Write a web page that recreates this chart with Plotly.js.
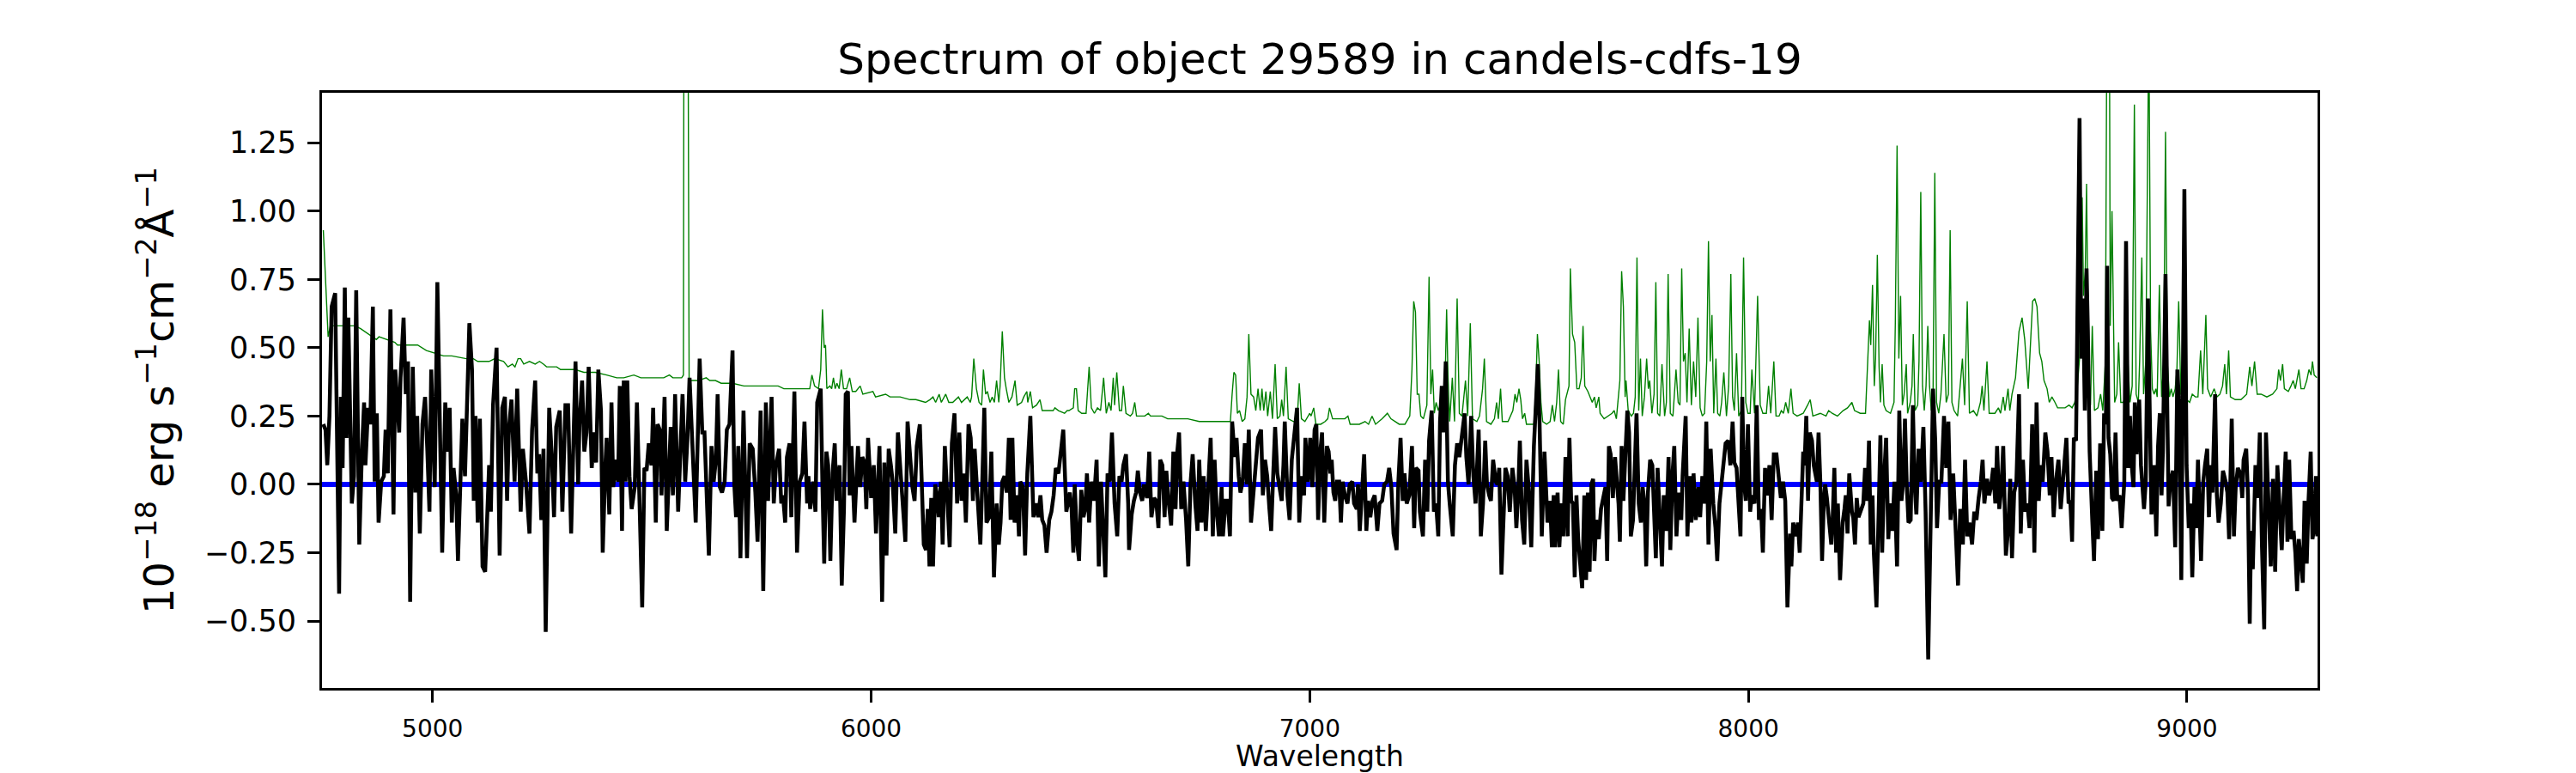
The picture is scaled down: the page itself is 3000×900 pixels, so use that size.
<!DOCTYPE html>
<html>
<head>
<meta charset="utf-8">
<script src="https://cdn.plot.ly/plotly-3.0.1.min.js"></script>
<style>
  html, body { margin: 0; padding: 0; background: #ffffff; }
  #spectrum { width: 3000px; height: 900px; }
</style>
</head>
<body>
<div id="spectrum"></div>
<script>
// Spectrum of object 29589 (candels-cdfs-19): observed flux (black),
// noise/sky spectrum (green) and the zero level (blue).
// Values, units 1e-18 erg/s/cm2/A.

const TITULO = 'Spectrum of object 29589 in candels-cdfs-19';
const EJE_X = 'Wavelength';
const EJE_Y = '10<sup>\u221218</sup> erg s<sup>\u22121</sup>cm<sup>\u22122</sup>\u00c5<sup>\u22121</sup>';

const xTicks = [5000, 6000, 7000, 8000, 9000];
const yTicks = [-0.5, -0.25, 0, 0.25, 0.5, 0.75, 1.0, 1.25];
const xLimites = [4748, 9297.6];
const yLimites = [-0.745, 1.433];
const nivelCero = 0;

// flujo observado
const ondaFlujo = [
  4751, 4756, 4760, 4765, 4770, 4778, 4787, 4791, 4795, 4800, 4804, 4808, 4816, 4821, 4826, 4833, 4839, 4844, 4847, 4853,
  4858, 4864, 4868, 4873, 4877, 4883, 4889, 4893, 4898, 4904, 4911, 4915, 4924, 4927, 4934, 4939, 4944, 4949, 4955, 4961,
  4965, 4971, 4977, 4983, 4988, 4993, 4997, 5005, 5011, 5017, 5022, 5029, 5035, 5039, 5044, 5048, 5054, 5058, 5062, 5068,
  5074, 5084, 5090, 5094, 5098, 5103, 5108, 5114, 5120, 5124, 5129, 5133, 5138, 5146, 5153, 5159, 5165, 5170, 5174, 5180,
  5187, 5193, 5201, 5206, 5213, 5221, 5227, 5234, 5239, 5243, 5248, 5253, 5258, 5266, 5272, 5277, 5282, 5290, 5296, 5303,
  5309,
  5316, 5321, 5326, 5332, 5335, 5341, 5346, 5351, 5356, 5363, 5368, 5373, 5378, 5384, 5388, 5394, 5397, 5403, 5408, 5412,
  5418, 5423, 5427, 5432, 5436, 5440, 5444, 5449, 5454, 5461, 5466, 5472, 5478, 5483, 5488, 5493, 5499, 5503, 5509, 5513,
  5518, 5522, 5529, 5534, 5538, 5543, 5548, 5553, 5560, 5565, 5570, 5576, 5581, 5586, 5591, 5596, 5600, 5609, 5615, 5620,
  5625, 5630, 5636, 5641, 5646, 5650, 5655, 5660, 5666, 5671, 5677, 5684, 5688, 5692, 5697, 5702, 5709, 5717, 5723, 5730,
  5736, 5741, 5748, 5754, 5760, 5765, 5773, 5778, 5783, 5790, 5795, 5799, 5804, 5808, 5814, 5818, 5825, 5831, 5837, 5843,
  5848, 5854, 5857, 5861, 5868, 5873, 5877,
  5885, 5889, 5893, 5898, 5902, 5907, 5912, 5917, 5921, 5928, 5933, 5938, 5942, 5947, 5951, 5955, 5962, 5970, 5975, 5980,
  5985, 5989, 5993, 6000, 6006, 6011, 6015, 6019, 6025, 6030, 6035, 6040, 6045, 6049, 6055, 6061, 6066, 6072, 6078, 6083,
  6090, 6094, 6099, 6104, 6111, 6116, 6120, 6125, 6129, 6133, 6137, 6141, 6146, 6150, 6154, 6159, 6163, 6168, 6173, 6179,
  6184, 6190, 6196, 6201, 6206, 6211, 6216, 6222, 6227, 6232, 6236, 6241, 6245, 6249, 6253, 6258, 6263, 6269, 6274, 6280,
  6286, 6291, 6295, 6299, 6304, 6309, 6314, 6318, 6322, 6327, 6333, 6337, 6340, 6346, 6351, 6356, 6363, 6367, 6370, 6376,
  6381, 6386, 6390, 6395, 6400, 6406, 6411, 6416, 6421, 6427, 6432, 6438, 6445,
  6453, 6457, 6461, 6464, 6470, 6474, 6479, 6484, 6488, 6492, 6497, 6502, 6508, 6514, 6519, 6524, 6530, 6534, 6539, 6544,
  6549, 6555, 6561, 6566, 6571, 6575, 6581, 6586, 6588, 6594, 6599, 6604, 6608, 6613, 6618, 6622, 6629, 6634, 6639, 6645,
  6650, 6655, 6659, 6664, 6669, 6673, 6678, 6684, 6689, 6694, 6698, 6702, 6707, 6712, 6718, 6723, 6728, 6733, 6739, 6744,
  6748, 6753, 6758, 6763, 6769, 6774, 6779, 6783, 6788, 6793, 6799, 6802, 6808, 6813, 6818, 6823, 6829, 6833, 6838, 6842,
  6847, 6852, 6857, 6861, 6866, 6872, 6877, 6882, 6889, 6893, 6898, 6903, 6908, 6912, 6917, 6921, 6926, 6930, 6936, 6940,
  6943, 6949, 6954, 6959, 6963, 6967, 6971, 6976, 6981, 6987, 6990, 6996, 7001, 7006, 7011, 7015,
  7019, 7024, 7028, 7033, 7039, 7043, 7047, 7050, 7054, 7058, 7062, 7067, 7071, 7075, 7080, 7086, 7091, 7097, 7101, 7107,
  7110, 7114, 7118, 7124, 7129, 7133, 7138, 7143, 7148, 7154, 7159, 7165, 7170, 7176, 7181, 7186, 7191, 7198, 7202, 7207,
  7212, 7216, 7221, 7227, 7233, 7238, 7242, 7248, 7251, 7258, 7263, 7268, 7272, 7278, 7283, 7288, 7293, 7297, 7301, 7305,
  7310, 7315, 7319, 7326, 7331, 7336, 7341, 7347, 7353, 7357, 7362, 7368, 7373, 7378, 7385, 7390, 7395, 7400, 7404, 7409,
  7413, 7418, 7424, 7428, 7432, 7437, 7442, 7446, 7451, 7456, 7462, 7467, 7471, 7475, 7479, 7484, 7489, 7494, 7499, 7505,
  7511, 7516, 7520, 7524, 7529, 7535, 7539, 7542, 7548, 7552, 7556, 7559, 7565, 7569, 7574, 7578, 7583,
  7588, 7592, 7596, 7600, 7604, 7608, 7612, 7617, 7621, 7626, 7630, 7634, 7638, 7642, 7646, 7649, 7653, 7659, 7664, 7669,
  7674, 7678, 7682, 7686, 7691, 7696, 7700, 7704, 7707, 7711, 7715, 7719, 7724, 7728, 7732, 7737, 7741, 7745, 7750, 7755,
  7759, 7763, 7767, 7771, 7776, 7781, 7785, 7789, 7793, 7798, 7803, 7807, 7813, 7818, 7822, 7827, 7831, 7836, 7841, 7847,
  7850, 7857, 7861, 7866, 7870, 7875, 7880, 7886, 7890, 7895, 7900, 7904, 7909, 7914, 7920, 7925, 7929, 7934, 7939, 7944,
  7948, 7954, 7959, 7964, 7968, 7973, 7978, 7982, 7986, 7990, 7994, 7999, 8004, 8008, 8014, 8019, 8024, 8029, 8033, 8038,
  8042, 8048, 8053, 8058, 8064, 8070, 8074, 8079, 8084, 8089, 8095, 8098, 8102, 8108, 8113, 8117, 8121, 8125, 8128, 8132,
  8136, 8140, 8145, 8149,
  8156, 8160, 8164, 8168, 8172, 8175, 8179, 8183, 8189, 8192, 8196, 8200, 8204, 8209, 8215, 8219, 8222, 8226, 8230, 8236,
  8239, 8243, 8247, 8251, 8256, 8262, 8266, 8271, 8275, 8279, 8283, 8286, 8292, 8297, 8301, 8305, 8309, 8314, 8319, 8323,
  8328, 8333, 8339, 8344, 8349, 8353, 8357, 8361, 8365, 8370, 8375, 8379, 8383, 8388, 8393, 8399, 8404, 8410, 8416, 8421,
  8426, 8430, 8435, 8440, 8446, 8451, 8456, 8461, 8467, 8472, 8478, 8483, 8489, 8494, 8499, 8504, 8510, 8515, 8520, 8525,
  8530, 8534, 8538, 8544, 8549, 8553, 8558, 8563, 8567, 8572, 8577, 8581, 8587, 8592, 8597, 8601, 8606, 8611, 8617, 8621,
  8626, 8631, 8636, 8641, 8647, 8652, 8657, 8662, 8666, 8671, 8677, 8682, 8687, 8691, 8696, 8701, 8707, 8712, 8717,
  8725, 8730, 8734, 8738, 8742, 8747, 8751, 8755, 8759, 8763, 8767, 8771, 8774, 8778, 8784, 8788, 8793, 8797, 8802, 8807,
  8811, 8815, 8818, 8821, 8825, 8829, 8833, 8837, 8841, 8846, 8851, 8857, 8861, 8866, 8870, 8874, 8878, 8881, 8885, 8891,
  8895, 8898, 8902, 8906, 8911, 8915, 8919, 8925, 8930, 8934, 8938, 8942, 8945, 8951, 8955, 8958, 8962, 8968, 8973, 8978,
  8982, 8987, 8994, 8999, 9004, 9008, 9012, 9017, 9021, 9025, 9032, 9037, 9041, 9046, 9050, 9054, 9058, 9064, 9068, 9072,
  9077, 9082, 9088, 9092, 9096, 9102, 9107, 9111, 9116, 9122, 9126, 9129, 9135, 9139, 9143, 9146, 9150, 9156, 9161, 9166,
  9171, 9176, 9180, 9186, 9191, 9196, 9201, 9206, 9212, 9216, 9220, 9225, 9229, 9233, 9238, 9243, 9247, 9251, 9255, 9260,
  9264, 9268, 9273, 9277, 9282, 9286, 9290, 9294, 9297
];
const flujo = [
  0.22, 0.20, 0.07, 0.25, 0.65, 0.70, -0.40, 0.32, 0.06, 0.72, 0.17, 0.61, -0.07, 0.03, 0.71, -0.22, 0.12, 0.30, 0.07, 0.28,
  0.22, 0.65, 0.01, 0.26, -0.14, 0.01, 0.03, 0.20, 0.04, 0.64, -0.11, 0.42, 0.19, 0.39, 0.61, 0.33, 0.45, -0.43, 0.43, -0.03,
  0.25, -0.18, 0.22, 0.32, 0.13, -0.10, 0.42, -0.01, 0.74, 0.20, -0.25, 0.30, 0.12, 0.28, -0.14, 0.06, -0.04, -0.28, -0.07, 0.24,
  0.03, 0.59, 0.42, -0.06, 0.25, -0.14, 0.24, -0.30, -0.32, -0.16, 0.07, -0.10, 0.29, 0.50, -0.26, 0.28, 0.32, -0.06, 0.20, 0.31,
  0.01, 0.35, -0.10, 0.13, 0.01, -0.18, 0.20, 0.38, 0.04, 0.11, -0.13, 0.13, -0.54, 0.28, 0.10, -0.12, 0.21, 0.27, -0.10, 0.29,
  0.29,
  -0.18, 0.13, 0.45, 0.00, 0.22, 0.38, 0.12, 0.19, 0.43, 0.06, 0.19, 0.08, 0.42, 0.27, -0.25, 0.07, 0.17, -0.11, 0.30, -0.01,
  0.09, 0.01, 0.36, -0.17, 0.38, 0.01, 0.38, 0.03, -0.09, -0.01, 0.30, -0.07, -0.45, 0.06, 0.05, 0.15, 0.07, 0.28, -0.14, 0.22,
  0.20, -0.04, 0.32, -0.17, -0.02, 0.21, -0.04, 0.33, -0.10, 0.17, 0.33, 0.01, 0.16, 0.39, 0.19, 0.00, -0.14, 0.46, 0.19, 0.19,
  0.00, -0.26, 0.14, 0.01, 0.09, 0.33, -0.01, -0.03, 0.01, 0.20, 0.22, 0.49, 0.00, -0.12, 0.14, -0.27, 0.27, -0.27, 0.15, 0.13,
  -0.03, -0.21, 0.27, -0.39, 0.30, -0.06, 0.32, -0.07, 0.07, 0.13, -0.07, -0.04, -0.14, 0.10, 0.15, -0.12, 0.34, -0.25, 0.01, 0.04,
  0.23, -0.07, 0.03, -0.09, 0.01, -0.10, 0.30,
  0.35, -0.01, -0.29, 0.12, 0.07, -0.28, 0.04, 0.15, -0.06, 0.07, -0.37, -0.09, 0.33, 0.34, -0.04, 0.14, -0.14, 0.14, -0.01, 0.10,
  0.08, -0.09, 0.17, -0.05, 0.07, -0.18, 0.01, 0.14, -0.43, 0.08, -0.26, 0.13, 0.07, 0.01, -0.18, 0.19, 0.07, -0.09, -0.21, 0.23,
  0.06, -0.01, -0.06, 0.14, 0.22, 0.01, -0.22, -0.24, -0.09, -0.30, -0.05, -0.30, 0.00, -0.04, -0.12, 0.01, -0.22, 0.14, -0.04, -0.23,
  0.15, 0.26, -0.07, 0.19, -0.06, 0.04, -0.14, 0.22, 0.17, -0.06, 0.13, 0.01, -0.09, -0.22, -0.01, 0.28, -0.14, -0.12, 0.12, -0.34,
  -0.07, -0.22, -0.14, 0.01, 0.03, -0.03, 0.17, -0.13, 0.17, -0.14, -0.04, -0.19, 0.01, -0.01, -0.26, 0.04, 0.25, 0.01, -0.12, -0.07,
  -0.12, -0.04, -0.13, -0.15, -0.25, -0.13, -0.10, -0.04, 0.06, 0.04, 0.11, 0.20, -0.10,
  -0.03, -0.09, -0.25, 0.00, -0.22, -0.28, -0.02, -0.12, -0.09, 0.04, -0.14, 0.01, -0.06, 0.09, -0.30, 0.01, -0.22, -0.34, 0.04, 0.01,
  0.19, -0.07, -0.19, 0.03, 0.01, 0.07, 0.11, -0.07, -0.24, -0.11, -0.06, -0.03, 0.05, -0.03, -0.06, 0.00, -0.05, 0.12, -0.12, -0.05,
  -0.06, -0.16, 0.09, 0.07, -0.12, 0.05, -0.06, -0.15, 0.12, -0.09, 0.12, 0.19, -0.09, 0.01, -0.13, -0.30, 0.00, 0.11, -0.07, -0.17,
  0.09, -0.14, 0.03, -0.17, 0.01, 0.17, -0.19, 0.09, -0.10, -0.19, -0.01, -0.19, -0.06, -0.06, -0.19, 0.23, 0.10, 0.17, 0.03, -0.03,
  0.01, 0.15, 0.00, 0.20, -0.14, -0.01, 0.07, 0.17, 0.20, -0.04, 0.09, 0.03, -0.09, -0.17, 0.05, 0.21, 0.04, 0.00, -0.06, 0.07,
  0.23, -0.04, -0.13, 0.09, 0.16, 0.20, 0.28, -0.14, 0.03, -0.04, 0.17, 0.01, 0.17, -0.01, 0.20, 0.22,
  -0.13, 0.12, 0.19, -0.14, 0.14, 0.12, 0.04, 0.09, -0.03, -0.06, 0.01, 0.01, -0.14, 0.01, -0.04, -0.07, 0.00, 0.01, -0.07, -0.09,
  0.00, -0.17, -0.06, 0.11, -0.17, -0.06, -0.12, -0.06, -0.04, -0.17, -0.07, -0.06, 0.00, 0.01, 0.06, -0.01, -0.18, -0.24, 0.01, 0.17,
  -0.06, 0.04, -0.07, -0.04, 0.14, -0.16, 0.06, 0.05, -0.10, -0.19, 0.09, -0.10, 0.16, 0.27, -0.10, -0.07, -0.19, 0.23, 0.36, 0.19,
  0.45, 0.01, -0.07, -0.19, 0.07, 0.15, 0.10, 0.18, 0.26, 0.10, 0.00, 0.25, 0.03, -0.07, 0.20, -0.19, -0.07, 0.16, 0.00, -0.04,
  -0.06, 0.09, 0.01, 0.00, 0.06, -0.33, -0.07, 0.06, 0.03, -0.10, 0.06, -0.01, -0.16, -0.04, 0.16, -0.13, -0.22, 0.09, -0.01, -0.23,
  0.14, 0.30, 0.44, 0.22, -0.19, 0.12, 0.00, -0.14, -0.06, -0.23, -0.04, -0.23, -0.03, -0.23, -0.07, -0.19, 0.10,
  -0.19, 0.17, -0.06, -0.07, -0.34, -0.04, -0.20, -0.30, -0.38, -0.04, -0.35, -0.03, -0.32, 0.00, 0.02, -0.28, -0.13, -0.20, -0.09, -0.05,
  -0.01, -0.28, 0.14, 0.11, -0.05, 0.10, 0.03, -0.07, -0.21, 0.14, -0.06, 0.10, 0.27, 0.19, -0.19, -0.13, 0.07, 0.26, -0.07, -0.14,
  -0.01, -0.07, -0.30, -0.03, 0.09, 0.07, -0.10, -0.27, 0.06, -0.17, -0.30, -0.04, -0.17, 0.10, -0.24, 0.04, 0.14, -0.19, -0.03, -0.13,
  0.03, 0.25, -0.19, 0.03, -0.14, 0.04, -0.13, -0.01, -0.12, 0.03, -0.07, 0.23, -0.22, 0.13, -0.07, -0.16, -0.28, -0.07, 0.01, 0.07,
  0.15, 0.16, 0.07, 0.23, 0.08, 0.06, -0.10, -0.19, 0.32, 0.01, -0.06, 0.22, -0.10, -0.04, -0.07, 0.29, -0.13, -0.09, -0.25, 0.06,
  -0.04, 0.07, -0.13, 0.11, 0.11, 0.01, -0.05, 0.01, -0.06, -0.45, -0.18, -0.30, -0.14, -0.19, -0.14, -0.25, -0.01, 0.12, 0.07, 0.25,
  -0.06, 0.19, 0.16, 0.07,
  0.01, 0.19, 0.01, -0.28, -0.06, 0.00, -0.05, -0.12, -0.22, -0.13, 0.06, -0.25, -0.07, -0.35, -0.14, -0.09, -0.04, -0.18, 0.04, -0.10,
  -0.12, -0.22, -0.05, -0.12, -0.10, -0.07, 0.06, -0.06, 0.16, -0.22, -0.04, -0.25, -0.45, 0.01, 0.18, -0.25, 0.01, 0.17, -0.20, -0.07,
  -0.17, 0.01, -0.30, 0.27, -0.06, 0.01, 0.24, 0.00, -0.14, -0.13, 0.29, 0.00, -0.11, 0.13, 0.01, 0.21, -0.10, -0.64, 0.01, 0.35,
  0.16, -0.16, 0.01, 0.01, 0.25, 0.06, 0.23, -0.13, 0.04, -0.16, -0.37, -0.09, -0.22, 0.09, -0.19, -0.14, -0.22, -0.10, -0.13, -0.05,
  0.01, 0.09, -0.07, 0.02, -0.04, -0.01, 0.06, -0.07, 0.14, -0.09, -0.01, 0.14, -0.26, -0.17, 0.02, -0.27, -0.03, 0.01, 0.33, -0.18,
  0.09, -0.10, -0.07, -0.16, 0.22, -0.25, 0.30, -0.06, 0.07, 0.01, 0.19, 0.12, -0.04, 0.10, -0.12, 0.01, 0.09, -0.09, 0.01,
  0.17, -0.07, -0.06, -0.21, 0.17, 0.16, 0.65, 1.34, 0.46, 0.68, 0.27, 0.79, 0.56, 0.12, -0.13, -0.28, 0.05, -0.20, 0.15, -0.17,
  0.26, 0.22, 0.80, 0.17, 0.11, -0.05, -0.06, 0.19, -0.06, -0.04, -0.16, 0.01, 0.89, 0.06, 0.25, 0.07, -0.01, 0.30, 0.11, 0.31,
  0.07, -0.01, -0.09, 0.01, 0.68, 0.27, -0.11, 0.07, -0.19, 0.14, 0.26, -0.04, 0.12, 0.77, 0.27, -0.08, 0.01, 0.05, -0.23, 0.42,
  0.30, -0.35, 1.08, 0.07, -0.16, -0.07, -0.34, -0.01, -0.16, 0.09, -0.28, 0.01, 0.07, 0.13, -0.12, 0.07, -0.03, 0.33, -0.04, -0.14,
  -0.07, 0.05, 0.01, -0.03, -0.20, 0.24, -0.19, -0.01, 0.06, 0.04, -0.05, 0.09, 0.13, -0.04, -0.51, -0.17, -0.31, 0.07, -0.05, 0.19,
  -0.23, -0.53, 0.19, -0.07, -0.30, 0.02, -0.32, 0.07, -0.13, -0.24, -0.06, 0.12, -0.21, 0.09, -0.20, -0.17, -0.25, -0.39, -0.20, -0.29,
  -0.36, -0.06, -0.29, -0.06, 0.12, -0.20, -0.16, 0.03, -0.19
];

// espectro de ruido / cielo
const ondaRuido = [
  4751, 4762, 4767, 4790, 4810, 4823, 4836, 4855, 4872, 4878, 4894, 4914, 4920, 4934, 4953, 4966, 4986, 5005, 5025, 5044,
  5077, 5093, 5103, 5129, 5142, 5162, 5172, 5182, 5188, 5195, 5201, 5208, 5221, 5234, 5244, 5253, 5260, 5276, 5283, 5292,
  5312,
  5325, 5345, 5371, 5397, 5420, 5436, 5459, 5475, 5501, 5527, 5540, 5548, 5568, 5572, 5574, 5578, 5581, 5585, 5606, 5624,
  5632, 5645, 5658, 5684, 5710, 5736, 5762, 5788, 5801, 5828, 5847, 5860, 5865, 5871, 5880,
  5885, 5889, 5893, 5896, 5899, 5906, 5910, 5914, 5918, 5922, 5927, 5932, 5937, 5944, 5951, 5957, 5965, 5975, 5981, 6004,
  6010, 6033, 6043, 6066, 6089, 6102, 6124, 6134, 6141, 6147, 6155, 6160, 6170, 6177, 6186, 6199, 6206, 6219, 6226, 6229,
  6234, 6240, 6246, 6252, 6256, 6261, 6265, 6271, 6276, 6281, 6286, 6291, 6294, 6299, 6304, 6308, 6314, 6321, 6328, 6333,
  6343, 6348, 6355, 6357, 6363, 6368, 6377, 6385, 6390, 6402, 6415, 6419, 6427, 6441, 6447,
  6451, 6461, 6464, 6468, 6472, 6480, 6490, 6497, 6502, 6509, 6516, 6523, 6530, 6536, 6542, 6547, 6552, 6555, 6560, 6566,
  6571, 6575, 6581, 6591, 6596, 6601, 6605, 6614, 6624, 6632, 6637, 6663, 6676, 6702, 6722, 6748, 6780, 6800, 6819, 6823,
  6827, 6831, 6835, 6840, 6846, 6852, 6857, 6861, 6866, 6872, 6877, 6882, 6887, 6891, 6895, 6900, 6904, 6910, 6915, 6921,
  6926, 6932, 6936, 6940, 6946, 6951, 6963, 6971, 6976, 6981, 6989, 7000, 7003, 7009, 7014,
  7025, 7035, 7041, 7045, 7052, 7061, 7071, 7080, 7087, 7092, 7113, 7126, 7134, 7142, 7150, 7165, 7177, 7185, 7204, 7217,
  7228, 7233, 7237, 7241, 7245, 7249, 7253, 7259, 7267, 7272, 7276, 7280, 7284, 7288, 7293, 7300, 7304, 7308, 7312, 7315,
  7319, 7325, 7330, 7336, 7341, 7347, 7355, 7360, 7366, 7371, 7381, 7387, 7394, 7398, 7403, 7413, 7421, 7426, 7430, 7435,
  7439, 7452, 7463, 7468, 7472, 7477, 7481, 7485, 7490, 7494, 7511, 7515, 7519, 7523, 7527, 7531, 7540, 7548, 7553, 7558,
  7563, 7567, 7572, 7578, 7583,
  7591, 7594, 7599, 7604, 7609, 7614, 7619, 7623, 7627, 7634, 7639, 7644, 7649, 7653, 7659, 7662, 7671, 7681, 7689, 7694,
  7699, 7707, 7711, 7715, 7719, 7721, 7726, 7733, 7738, 7742, 7746, 7750, 7754, 7758, 7763, 7768, 7772, 7775, 7780, 7785,
  7789, 7793, 7798, 7803, 7809, 7813, 7817, 7822, 7828, 7835, 7840, 7844, 7848, 7852, 7856, 7860, 7865, 7870, 7875, 7880,
  7885, 7890, 7895, 7900, 7905, 7909, 7913, 7917, 7921, 7926, 7930, 7935, 7939, 7944, 7950, 7955, 7960, 7964, 7968, 7973,
  7978, 7984, 7989, 7994, 7999, 8004, 8008, 8014, 8021, 8027, 8033, 8041, 8046, 8051, 8058, 8063, 8070, 8075, 8080, 8085,
  8091, 8097, 8102, 8111, 8125, 8135, 8141, 8147,
  8164, 8177, 8183, 8191, 8203, 8216, 8226, 8236, 8242, 8255, 8267, 8272, 8276, 8279, 8283, 8287, 8290, 8294, 8298, 8301,
  8305, 8309, 8314, 8324, 8332, 8335, 8339, 8343, 8347, 8351, 8355, 8360, 8363, 8369, 8373, 8376, 8380, 8386, 8389, 8393,
  8397, 8401, 8405, 8409, 8413, 8417, 8421, 8425, 8429, 8434, 8439, 8446, 8451, 8456, 8460, 8464, 8469, 8477, 8483, 8488,
  8493, 8499, 8504, 8513, 8521, 8529, 8533, 8537, 8544, 8549, 8562, 8570, 8575, 8581, 8585, 8592, 8596, 8601, 8609, 8617,
  8624, 8630, 8638, 8643, 8648, 8653, 8658, 8664, 8669, 8674, 8681, 8686, 8692, 8699, 8705, 8718,
  8722, 8731, 8738, 8744, 8750, 8755, 8759, 8761, 8764, 8768, 8771, 8775, 8780, 8784, 8789, 8797, 8803, 8808, 8814, 8818,
  8823, 8825, 8829, 8835, 8840, 8844, 8849, 8855, 8861, 8865, 8870, 8875, 8880, 8884, 8889, 8892, 8897, 8901, 8906, 8910,
  8913, 8917, 8921, 8925, 8929, 8932, 8937, 8942, 8947, 8951, 8955, 8960, 8964, 8968, 8973, 8977, 8981, 8986, 8992, 8999,
  9006, 9012, 9019, 9025, 9031, 9036, 9043, 9047, 9054, 9062, 9068, 9075, 9081, 9086, 9090, 9095, 9099, 9110, 9123, 9136,
  9143, 9148, 9154, 9160, 9169, 9182, 9195, 9205, 9209, 9213, 9218, 9222, 9231, 9237, 9242, 9247, 9255, 9260, 9267, 9273,
  9278, 9283, 9286, 9290, 9296
];
const ruido = [
  0.93, 0.54, 0.58, 0.58, 0.58, 0.58, 0.57, 0.55, 0.53, 0.54, 0.53, 0.52, 0.51, 0.51, 0.51, 0.51, 0.49, 0.48, 0.47, 0.47,
  0.46, 0.46, 0.45, 0.45, 0.46, 0.45, 0.43, 0.44, 0.43, 0.46, 0.46, 0.44, 0.45, 0.44, 0.45, 0.44, 0.43, 0.43, 0.43, 0.42,
  0.42,
  0.42, 0.41, 0.41, 0.40, 0.39, 0.39, 0.40, 0.39, 0.39, 0.39, 0.40, 0.39, 0.39, 0.40, 2.8, 3.0, 2.6, 0.38, 0.38, 0.39,
  0.38, 0.38, 0.37, 0.37, 0.36, 0.36, 0.36, 0.36, 0.35, 0.35, 0.35, 0.35, 0.40, 0.36, 0.35,
  0.42, 0.64, 0.50, 0.51, 0.35, 0.36, 0.35, 0.39, 0.35, 0.37, 0.35, 0.42, 0.35, 0.35, 0.39, 0.34, 0.34, 0.36, 0.33, 0.34,
  0.32, 0.33, 0.32, 0.32, 0.31, 0.31, 0.30, 0.31, 0.32, 0.30, 0.33, 0.30, 0.33, 0.30, 0.30, 0.32, 0.30, 0.32, 0.30, 0.32,
  0.46, 0.35, 0.30, 0.29, 0.42, 0.33, 0.34, 0.30, 0.32, 0.30, 0.38, 0.30, 0.36, 0.56, 0.39, 0.35, 0.30, 0.32, 0.38, 0.29,
  0.30, 0.32, 0.34, 0.30, 0.34, 0.28, 0.29, 0.31, 0.27, 0.27, 0.27, 0.28, 0.27, 0.26, 0.27,
  0.27, 0.28, 0.35, 0.35, 0.27, 0.26, 0.26, 0.43, 0.28, 0.26, 0.28, 0.27, 0.39, 0.26, 0.30, 0.27, 0.39, 0.29, 0.41, 0.27,
  0.27, 0.36, 0.26, 0.25, 0.26, 0.30, 0.25, 0.25, 0.25, 0.26, 0.25, 0.25, 0.24, 0.24, 0.24, 0.23, 0.23, 0.23, 0.23, 0.33,
  0.41, 0.40, 0.26, 0.27, 0.23, 0.24, 0.32, 0.55, 0.33, 0.32, 0.27, 0.35, 0.27, 0.35, 0.27, 0.34, 0.25, 0.34, 0.24, 0.44,
  0.24, 0.25, 0.31, 0.25, 0.43, 0.24, 0.23, 0.23, 0.37, 0.24, 0.23, 0.26, 0.25, 0.28, 0.22,
  0.22, 0.23, 0.24, 0.28, 0.24, 0.24, 0.24, 0.24, 0.25, 0.22, 0.22, 0.23, 0.22, 0.25, 0.22, 0.24, 0.26, 0.24, 0.22, 0.22,
  0.25, 0.42, 0.67, 0.63, 0.33, 0.33, 0.25, 0.24, 0.29, 0.76, 0.33, 0.42, 0.26, 0.30, 0.27, 0.30, 0.23, 0.33, 0.64, 0.40,
  0.23, 0.39, 0.23, 0.68, 0.26, 0.25, 0.38, 0.25, 0.59, 0.24, 0.23, 0.25, 0.35, 0.46, 0.23, 0.22, 0.24, 0.30, 0.24, 0.35,
  0.23, 0.23, 0.27, 0.33, 0.30, 0.35, 0.31, 0.24, 0.26, 0.22, 0.22, 0.33, 0.55, 0.45, 0.30, 0.23, 0.22, 0.23, 0.29, 0.23,
  0.30, 0.42, 0.23, 0.22, 0.31,
  0.36, 0.79, 0.55, 0.52, 0.35, 0.35, 0.39, 0.58, 0.36, 0.34, 0.32, 0.30, 0.32, 0.28, 0.32, 0.26, 0.24, 0.25, 0.26, 0.27,
  0.24, 0.38, 0.78, 0.65, 0.32, 0.38, 0.27, 0.25, 0.26, 0.32, 0.83, 0.27, 0.46, 0.25, 0.32, 0.46, 0.35, 0.38, 0.26, 0.33,
  0.74, 0.26, 0.25, 0.44, 0.25, 0.30, 0.77, 0.26, 0.25, 0.42, 0.30, 0.29, 0.79, 0.45, 0.48, 0.30, 0.57, 0.29, 0.45, 0.32,
  0.61, 0.28, 0.25, 0.26, 0.45, 0.89, 0.45, 0.62, 0.26, 0.46, 0.26, 0.25, 0.30, 0.41, 0.25, 0.36, 0.77, 0.32, 0.27, 0.48,
  0.25, 0.27, 0.83, 0.30, 0.26, 0.26, 0.42, 0.26, 0.69, 0.29, 0.26, 0.26, 0.36, 0.26, 0.45, 0.25, 0.25, 0.27, 0.26, 0.30,
  0.26, 0.35, 0.26, 0.25, 0.26, 0.29, 0.31, 0.25,
  0.26, 0.25, 0.27, 0.26, 0.25, 0.27, 0.28, 0.30, 0.27, 0.26, 0.26, 0.45, 0.60, 0.51, 0.73, 0.36, 0.46, 0.84, 0.43, 0.30,
  0.44, 0.29, 0.27, 0.26, 0.30, 0.59, 1.24, 0.46, 0.69, 0.29, 0.33, 0.44, 0.26, 0.30, 0.36, 0.55, 0.27, 0.29, 0.45, 1.07,
  0.36, 0.27, 0.36, 0.58, 0.36, 0.27, 0.33, 1.14, 0.30, 0.26, 0.33, 0.55, 0.30, 0.33, 0.93, 0.30, 0.27, 0.25, 0.36, 0.46,
  0.29, 0.67, 0.26, 0.27, 0.25, 0.30, 0.36, 0.27, 0.45, 0.26, 0.26, 0.28, 0.26, 0.32, 0.27, 0.35, 0.27, 0.33, 0.39, 0.56,
  0.61, 0.53, 0.35, 0.53, 0.67, 0.68, 0.65, 0.48, 0.45, 0.38, 0.35, 0.30, 0.32, 0.30, 0.28, 0.28,
  0.28, 0.29, 0.28, 0.30, 0.36, 0.46, 0.78, 1.05, 0.69, 0.78, 1.10, 0.45, 0.29, 0.58, 0.27, 0.28, 0.33, 0.27, 0.45, 2.0,
  1.8, 0.58, 1.00, 0.30, 0.33, 0.52, 0.30, 0.30, 0.33, 0.46, 0.30, 0.36, 1.39, 0.33, 0.30, 0.45, 0.83, 0.33, 0.45, 1.08,
  1.7, 0.56, 0.35, 0.33, 0.35, 0.32, 0.73, 0.32, 0.45, 1.29, 0.45, 0.32, 0.35, 0.32, 0.35, 0.42, 0.67, 0.33, 0.32, 0.31,
  0.30, 0.33, 0.32, 0.32, 0.49, 0.33, 0.62, 0.35, 0.32, 0.35, 0.32, 0.33, 0.36, 0.44, 0.33, 0.49, 0.32, 0.31, 0.31, 0.33,
  0.43, 0.36, 0.45, 0.33, 0.33, 0.32, 0.33, 0.35, 0.42, 0.38, 0.44, 0.35, 0.34, 0.36, 0.38, 0.35, 0.42, 0.35, 0.35, 0.38,
  0.42, 0.40, 0.45, 0.40, 0.39
];

const FUENTE = '"DejaVu Sans", "Liberation Sans", sans-serif';

const trazaRuido = {
  type: 'scatter',
  mode: 'lines',
  x: ondaRuido,
  y: ruido,
  line: { color: '#008000', width: 1.4 },
  hoverinfo: 'skip',
};

const trazaFlujo = {
  type: 'scatter',
  mode: 'lines',
  x: ondaFlujo,
  y: flujo,
  line: { color: '#000000', width: 4.5 },
  hoverinfo: 'skip',
};

const layout = {
  width: 3000,
  height: 900,
  margin: { l: 375, r: 301, t: 108, b: 99 },
  paper_bgcolor: '#ffffff',
  plot_bgcolor: '#ffffff',
  showlegend: false,
  hovermode: false,
  font: { family: FUENTE, color: '#000000' },
  title: {
    text: TITULO,
    font: { family: FUENTE, size: 50, color: '#000000' },
    xref: 'paper', x: 0.5, xanchor: 'center',
    yref: 'container', y: 1 - 68 / 900, yanchor: 'middle',
  },
  xaxis: {
    range: xLimites,
    tickmode: 'array',
    tickvals: xTicks,
    ticktext: xTicks.map(String),
    ticks: 'outside', ticklen: 14, tickwidth: 3, tickcolor: '#000000',
    tickfont: { family: FUENTE, size: 28, color: '#000000' },
    ticklabelstandoff: 6,
    showgrid: false, zeroline: false,
    showline: true, linecolor: '#000000', linewidth: 3, mirror: true,
    title: { text: EJE_X, font: { family: FUENTE, size: 33, color: '#000000' }, standoff: 6 },
  },
  yaxis: {
    range: yLimites,
    tickmode: 'array',
    tickvals: yTicks,
    ticktext: yTicks.map((v) => (v < 0 ? '\u2212' : '') + Math.abs(v).toFixed(2)),
    ticks: 'outside', ticklen: 14, tickwidth: 3, tickcolor: '#000000',
    tickfont: { family: FUENTE, size: 35, color: '#000000' },
    ticklabelstandoff: 6,
    showgrid: false, zeroline: false,
    showline: true, linecolor: '#000000', linewidth: 3, mirror: true,
    title: { text: EJE_Y, font: { family: FUENTE, size: 48, color: '#000000' }, standoff: 20 },
  },
  // nivel cero en azul, debajo de las trazas
  shapes: [{
    type: 'line', xref: 'paper', yref: 'y',
    x0: 0, x1: 1, y0: nivelCero, y1: nivelCero,
    line: { color: '#0000ff', width: 6 },
    layer: 'below',
  }],
};

Plotly.newPlot('spectrum', [trazaRuido, trazaFlujo], layout, { displayModeBar: false, staticPlot: true });
</script>
</body>
</html>
